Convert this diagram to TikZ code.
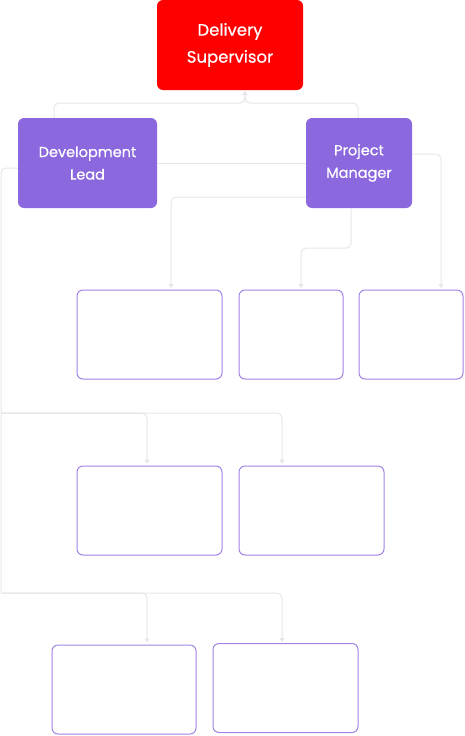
\documentclass[tikz,border=0pt]{standalone}
\usepackage{fontspec}
\setmainfont{Poppins}[FakeBold=0.6]
\usetikzlibrary{arrows.meta}
\definecolor{redbox}{HTML}{FF0000}
\definecolor{purp}{HTML}{8B68DE}
\definecolor{linecol}{HTML}{E6E6E8}
\definecolor{boxedge}{HTML}{A283E6}
\tikzset{
  topbox/.style={fill=redbox, rounded corners=6pt, text=white, align=center, inner sep=0pt,
    minimum width=146pt, minimum height=90pt, font=\fontsize{16.5}{27}\selectfont},
  leadbox/.style={fill=purp, rounded corners=6pt, text=white, align=center, inner sep=0pt,
    minimum height=90pt, font=\fontsize{14.5}{22.5}\selectfont},
  emptybox/.style={draw=boxedge, line width=1pt, rounded corners=6pt, fill=white, inner sep=0pt,
    minimum height=89pt},
  conn/.style={draw=linecol, line width=1pt, rounded corners=5pt},
  arr/.style={-{Triangle[width=5pt,length=4pt]}}
}
\begin{document}
\begin{tikzpicture}[x=1pt,y=-1pt]
\useasboundingbox (0,0) rectangle (465,736);
\node[topbox] (ds) at (230,45) {Delivery\\Supervisor};
\node[leadbox, minimum width=139pt] (dl) at (87.5,163) {Development\\Lead};
\node[leadbox, minimum width=106pt] (pm) at (359,163) {Project\\Manager};
\node[emptybox, minimum width=145pt] (b1) at (149.5,334.5) {};
\node[emptybox, minimum width=104pt] (b2) at (291,334.5) {};
\node[emptybox, minimum width=104pt] (b3) at (411,334.5) {};
\node[emptybox, minimum width=145pt] (b4) at (149.5,510.5) {};
\node[emptybox, minimum width=145pt] (b5) at (311.5,510.5) {};
\node[emptybox, minimum width=144pt] (b6) at (124,689.5) {};
\node[emptybox, minimum width=145pt] (b7) at (285.5,688) {};
\coordinate (hub) at (245,103);
\coordinate (sp1) at (1,413);
\coordinate (sp2) at (1,593);
% to supervisor
\draw[conn,arr] ([xshift=-33.5pt]dl.north) |- (hub) -- ([xshift=15pt,yshift=-1pt]ds.south);
\draw[conn,arr] ([xshift=-1pt]pm.north) |- (hub) -- ([xshift=15pt,yshift=-1pt]ds.south);
% lead to manager
\draw[conn] (dl.east) -- (pm.west);
% manager to row 1
\draw[conn,arr] ([yshift=-34pt]pm.west) -| ([xshift=21.5pt,yshift=1.5pt]b1.north);
\draw[conn,arr] ([xshift=-8pt]pm.south) -- ++(0,40) -| ([xshift=10pt,yshift=1.5pt]b2.north);
\draw[conn,arr] ([yshift=9pt]pm.east) -| ([xshift=30pt,yshift=1.5pt]b3.north);
% lead spine
\draw[conn] ([yshift=-5pt]dl.west) -| (sp1) -- (sp2);
\draw[conn,arr] (sp1) -| ([xshift=-2.5pt,yshift=2pt]b4.north);
\draw[conn,arr] (sp1) -| ([xshift=-29.5pt,yshift=2pt]b5.north);
\draw[conn,arr] (sp2) -| ([xshift=23pt,yshift=2pt]b6.north);
\draw[conn,arr] (sp2) -| ([xshift=-3.5pt,yshift=1pt]b7.north);
\end{tikzpicture}
\end{document}
